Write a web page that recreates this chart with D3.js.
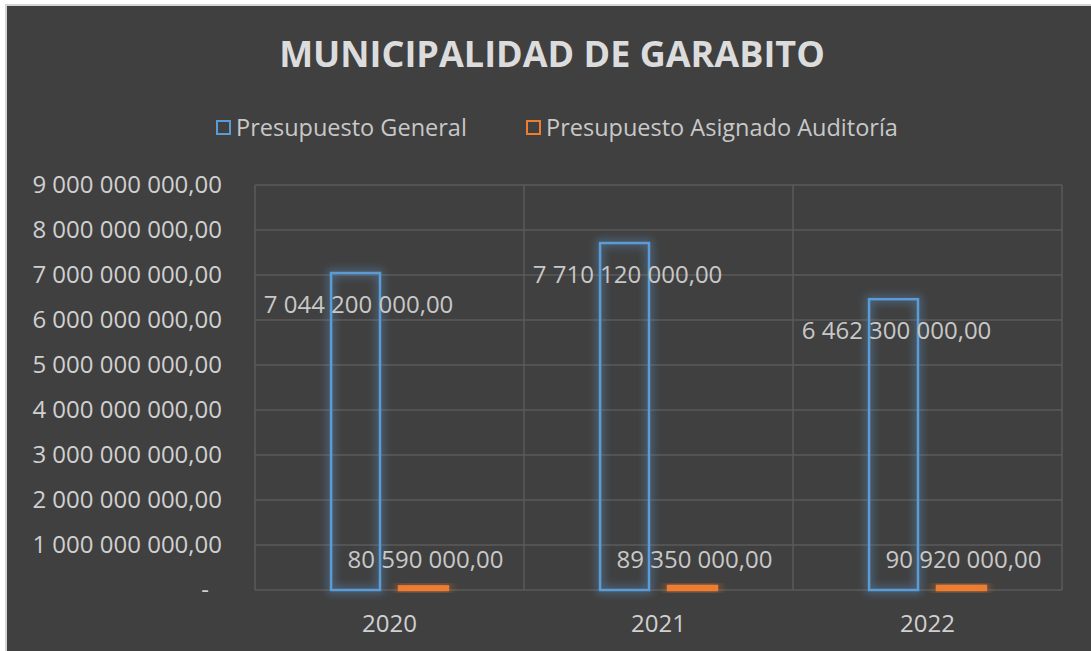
<!DOCTYPE html>
<html>
<head>
<meta charset="utf-8">
<script src="https://cdn.jsdelivr.net/npm/d3@7"></script>
<style>
  html, body { margin: 0; padding: 0; background: #ffffff; }
  svg { display: block; }
  text { font-family: "Open Sans", "DejaVu Sans", sans-serif; }
</style>
</head>
<body>
<div id="chart"></div>
<script>
const title = "MUNICIPALIDAD DE GARABITO";
const categories = ["2020", "2021", "2022"];
const seriesNames = ["Presupuesto General", "Presupuesto Asignado Auditoría"];
const presupuestoGeneral = [7044200000, 7710120000, 6462300000];
const presupuestoAuditoria = [80590000, 89350000, 90920000];
const yTicks = [0, 1e9, 2e9, 3e9, 4e9, 5e9, 6e9, 7e9, 8e9, 9e9];
const seriesColors = ["#5b9bd5", "#ed7d31"];

const W = 1091, H = 651;
const margin = { left: 255, right: 29, top: 185, bottom: 61 };

const svg = d3.select("#chart").append("svg").attr("width", W).attr("height", H);

// glow filters
const defs = svg.append("defs");
seriesColors.forEach((c, i) => {
  const f = defs.append("filter").attr("id", "glow" + i)
    .attr("x", "-50%").attr("y", "-50%").attr("width", "200%").attr("height", "200%");
  f.append("feMorphology").attr("in", "SourceGraphic").attr("operator", "dilate").attr("radius", 2).attr("result", "d");
  f.append("feGaussianBlur").attr("in", "d").attr("stdDeviation", 4).attr("result", "b");
  f.append("feComponentTransfer").attr("in", "b").attr("result", "b2")
    .append("feFuncA").attr("type", "linear").attr("slope", 0.45);
  const m = f.append("feMerge");
  m.append("feMergeNode").attr("in", "b2");
  m.append("feMergeNode").attr("in", "SourceGraphic");
});

// background panel
svg.append("rect").attr("x", 6).attr("y", 5).attr("width", W).attr("height", H)
  .attr("fill", "#404040").attr("stroke", "#d4d4d4").attr("stroke-width", 2);

const x0 = d3.scaleBand().domain(categories).range([margin.left, W - margin.right]).padding(0);
const x1 = d3.scaleBand().domain(seriesNames).range([0, x0.bandwidth()])
  .paddingInner(0.28).paddingOuter(1.12);
const y = d3.scaleLinear().domain([0, 9e9]).range([H - margin.bottom, margin.top]);

// gridlines
const grid = svg.append("g");
grid.selectAll("line.h").data(yTicks).join("line")
  .attr("x1", margin.left).attr("x2", W - margin.right)
  .attr("y1", d => y(d)).attr("y2", d => y(d))
  .attr("stroke", "#5a5a5a").attr("stroke-width", 1.5);
const vBounds = categories.map(c => x0(c)).concat([x0(categories[categories.length - 1]) + x0.bandwidth()]);
grid.selectAll("line.v").data(vBounds).join("line")
  .attr("x1", d => d).attr("x2", d => d)
  .attr("y1", y(9e9)).attr("y2", y(0))
  .attr("stroke", "#5a5a5a").attr("stroke-width", 1.5);

// y axis labels
function fmt(v) {
  if (v === 0) return "-";
  const s = d3.format(",.2f")(v);
  return s.replace(/,/g, " ").replace(/\.(\d\d)$/, ",$1");
}
const yAxis = d3.axisLeft(y).tickValues(yTicks).tickSize(0).tickPadding(0).tickFormat(fmt);
const ya = svg.append("g").attr("transform", `translate(${222},0)`).call(yAxis);
ya.select(".domain").remove();
ya.selectAll("text").attr("font-size", 24).attr("fill", "#d0d0d0")
  .attr("font-family", "'Open Sans', sans-serif")
  .attr("dx", d => d === 0 ? -13 : 0);

// x axis labels
const xAxis = d3.axisBottom(x0).tickSize(0).tickPadding(0);
const xa = svg.append("g").attr("transform", `translate(0,${632})`).call(xAxis);
xa.select(".domain").remove();
xa.selectAll("text").attr("font-size", 24).attr("fill", "#d0d0d0")
  .attr("font-family", "'Open Sans', sans-serif").attr("dy", 0);

// bars
const seriesData = [presupuestoGeneral, presupuestoAuditoria];
seriesData.forEach((vals, si) => {
  const g = svg.append("g").attr("filter", `url(#glow${si})`);
  g.selectAll("rect").data(categories).join("rect")
    .attr("x", c => x0(c) + x1(seriesNames[si]))
    .attr("width", x1.bandwidth())
    .attr("y", (c, i) => y(vals[i]))
    .attr("height", (c, i) => y(0) - y(vals[i]))
    .attr("fill", si === 1 ? seriesColors[si] : "none")
    .attr("stroke", seriesColors[si]).attr("stroke-width", 2.5);
});

// value labels
svg.append("g").selectAll("text").data(categories).join("text")
  .attr("x", c => x0(c) + x1(seriesNames[0]) + x1.bandwidth() / 2 + 3)
  .attr("y", (c, i) => y(presupuestoGeneral[i]) + 40)
  .attr("text-anchor", "middle").attr("font-size", 24).attr("fill", "#c8c8c8")
  .text((c, i) => fmt(presupuestoGeneral[i]));
svg.append("g").selectAll("text").data(categories).join("text")
  .attr("x", c => x0(c) + x1(seriesNames[1]) + x1.bandwidth() / 2 + 2)
  .attr("y", 568)
  .attr("text-anchor", "middle").attr("font-size", 24).attr("fill", "#c8c8c8")
  .text((c, i) => fmt(presupuestoAuditoria[i]));

// title
svg.append("text").attr("x", 552).attr("y", 67).attr("text-anchor", "middle")
  .attr("font-size", 36).attr("font-weight", "bold").attr("fill", "#dcdcdc")
  .text(title);

// legend
const legendX = [217, 527];
const lg = svg.append("g");
seriesNames.forEach((n, i) => {
  lg.append("rect").attr("x", legendX[i]).attr("y", 121).attr("width", 13).attr("height", 13)
    .attr("fill", "none").attr("stroke", seriesColors[i]).attr("stroke-width", 2);
  lg.append("text").attr("x", legendX[i] + 19).attr("y", 136)
    .attr("font-size", 23.5).attr("fill", "#c8c8c8").text(n);
});
</script>
</body>
</html>
